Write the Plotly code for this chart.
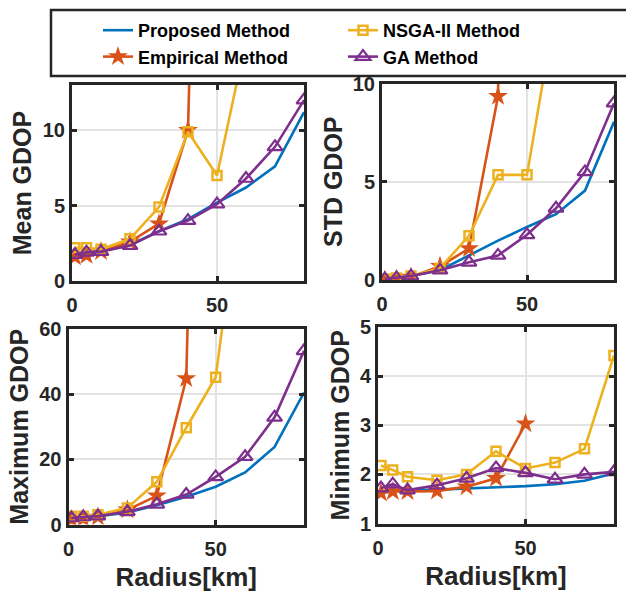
import plotly.graph_objects as go

# ---------------- data ----------------
radius = [1, 5, 10, 20, 30, 40, 50, 60, 70, 80]
radius_emp = [1, 5, 10, 20, 30, 40, 50]

mean_prop = [1.8, 1.9, 2.0, 2.4, 3.3, 4.1, 5.2, 6.2, 7.6, 11.2]
mean_emp = [1.6, 1.7, 1.95, 2.6, 3.8, 10.0, 85.0]
mean_nsga = [2.2, 2.2, 2.1, 2.8, 4.9, 9.9, 7.0, 15.2, 25.0, 40.0]
mean_ga = [1.75, 1.9, 1.95, 2.35, 3.3, 4.0, 5.1, 6.8, 8.9, 12.0]

std_prop = [0.05, 0.1, 0.2, 0.5, 1.27, 2.0, 2.7, 3.35, 4.55, 8.05]
std_emp = [0.0, 0.05, 0.15, 0.7, 1.6, 9.35, 100.0]
std_nsga = [0.05, 0.1, 0.2, 0.6, 2.25, 5.35, 5.35, 14.0, 25.0, 40.0]
std_ga = [0.05, 0.1, 0.2, 0.5, 0.9, 1.25, 2.3, 3.65, 5.5, 9.0]

max_prop = [2.0, 2.2, 2.5, 3.7, 5.9, 8.5, 11.6, 16.0, 23.8, 40.5]
max_emp = [1.5, 1.8, 2.3, 4.5, 8.8, 44.8, 400.0]
max_nsga = [2.5, 2.5, 3.0, 5.1, 13.1, 29.7, 45.2, 107.0, 150.0, 250.0]
max_ga = [2.0, 2.3, 2.6, 3.9, 6.2, 9.2, 14.6, 20.8, 32.9, 53.3]

min_prop = [1.65, 1.67, 1.68, 1.69, 1.71, 1.74, 1.76, 1.80, 1.87, 2.02]
min_emp = [1.62, 1.65, 1.65, 1.66, 1.75, 1.92, 3.03]
min_nsga = [2.18, 2.09, 1.95, 1.88, 2.0, 2.47, 2.12, 2.24, 2.52, 4.42]
min_ga = [1.72, 1.8, 1.68, 1.78, 1.92, 2.13, 2.03, 1.9, 2.0, 2.05]

names = ["Proposed Method", "Empirical Method", "NSGA-II Method", "GA Method"]
ranks = [1, 3, 2, 4]
colors = ["#0072BD", "#D95319", "#EDB120", "#7E2F8E"]

panels = [
    ("Mean GDOP", [mean_prop, mean_emp, mean_nsga, mean_ga], [0, 13], [0, 5, 10]),
    ("STD GDOP", [std_prop, std_emp, std_nsga, std_ga], [0, 10], [0, 5, 10]),
    ("Maximum GDOP", [max_prop, max_emp, max_nsga, max_ga], [0, 60], [0, 20, 40, 60]),
    ("Minimum GDOP", [min_prop, min_emp, min_nsga, min_ga], [1, 5], [1, 2, 3, 4, 5]),
]

W, H = 626, 594
# pixel boxes (left, right, top, bottom) and y-title standoffs
boxes = [(72, 304, 85, 281), (382, 614, 83.5, 280), (68.5, 304, 329, 524.5), (378, 614, 327, 523.5)]
ystandoff = [5, 4, 4, 4]

FONT = "Liberation Sans"
TXT = "#262626"

fig = go.Figure()

markers = [
    None,
    dict(symbol="star", size=15),
    dict(symbol="square-open", size=9, line=dict(width=2.5)),
    dict(symbol="triangle-up-open", size=13, line=dict(width=2.2)),
]

layout_axes = {}
for i, (title, series, yr, yt) in enumerate(panels):
    k = "" if i == 0 else str(i + 1)
    for j, ys in enumerate(series):
        xs = radius_emp if j == 1 else radius
        if j == 0:
            mode, m = "lines", None
        else:
            mode, m = "lines+markers", dict(color=colors[j], **markers[j])
        fig.add_trace(go.Scatter(
            x=xs, y=ys, mode=mode, name=names[j],
            line=dict(color=colors[j], width=2.6),
            marker=m,
            xaxis="x" + k, yaxis="y" + k,
            showlegend=(i == 0), legendrank=ranks[j],
        ))
    l, r, t, b = boxes[i]
    bottom_row = i >= 2
    common = dict(
        showline=True, linewidth=3, linecolor=TXT, mirror="ticks",
        ticks="inside", ticklen=5, tickwidth=2.5, tickcolor=TXT,
        showgrid=True, gridcolor="#e3e3e3", gridwidth=2,
        zeroline=False, automargin=False,
        tickfont=dict(family=FONT, size=20, color=TXT, weight="bold"),
    )
    layout_axes["xaxis" + k] = dict(
        common, domain=[l / W, r / W], range=[0, 80], tickvals=[0, 50],
        anchor="y" + k, ticklabelstandoff=4,
        title=dict(text="Radius[km]" if bottom_row else "", standoff=10,
                   font=dict(family=FONT, size=26, color=TXT, weight="bold")),
    )
    layout_axes["yaxis" + k] = dict(
        common, domain=[1 - b / H, 1 - t / H], range=yr, tickvals=yt,
        anchor="x" + k,
        title=dict(text=title, standoff=ystandoff[i],
                   font=dict(family=FONT, size=25, color=TXT, weight="bold")),
    )

fig.update_layout(
    width=W, height=H,
    margin=dict(l=0, r=0, t=0, b=0, autoexpand=False),
    paper_bgcolor="white", plot_bgcolor="white",
    showlegend=True,
    legend=dict(
        orientation="h", x=98 / W, xanchor="left", y=1 - 12 / H, yanchor="top",
        entrywidth=200, entrywidthmode="pixels",
        font=dict(family=FONT, size=18, color="black", weight="bold"),
        bgcolor="rgba(0,0,0,0)", borderwidth=0,
    ),
    shapes=[dict(type="rect", xref="paper", yref="paper",
                 x0=51 / W, x1=700 / W, y0=1 - 76 / H, y1=1 - 10 / H,
                 line=dict(color=TXT, width=2.5), fillcolor="rgba(0,0,0,0)")],
    **layout_axes,
)

fig.write_html("out.html")
